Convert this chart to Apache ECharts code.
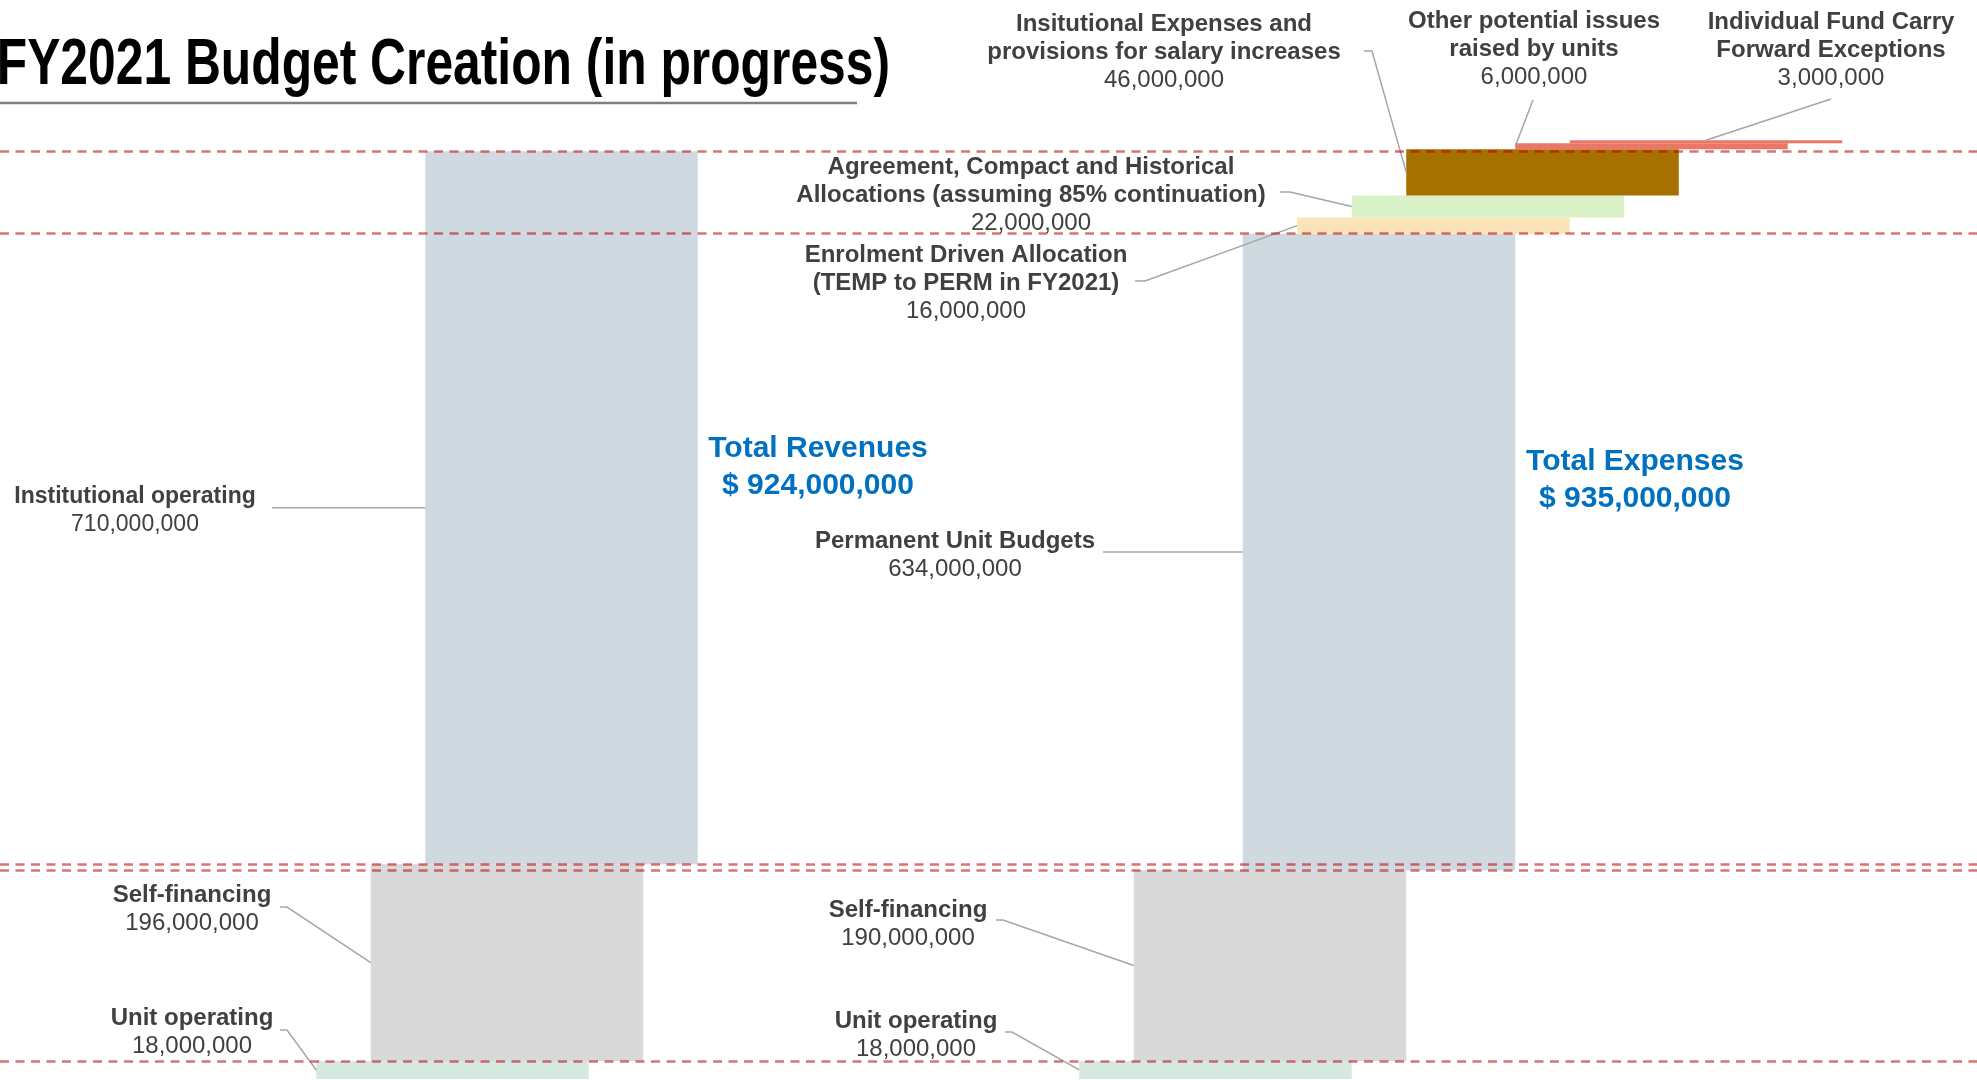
<!DOCTYPE html>
<html><head><meta charset="utf-8">
<script src="https://cdn.jsdelivr.net/npm/echarts@6/dist/echarts.min.js"></script>
<style>html,body{margin:0;padding:0;background:#fff;overflow:hidden}#c{width:1977px;height:1080px}</style>
</head><body><div id="c"></div>
<script>
// ---------------- data ----------------
const titleText = 'FY2021 Budget Creation (in progress)';
const revenueLabels = ['Unit operating', 'Self-financing', 'Institutional operating'];
const revenueValues = [18000000, 196000000, 710000000];
const expenseLabels = [
  'Unit operating',
  'Self-financing',
  'Permanent Unit Budgets',
  'Enrolment Driven Allocation\n(TEMP to PERM in FY2021)',
  'Agreement, Compact and Historical\nAllocations (assuming 85% continuation)',
  'Insitutional Expenses and\nprovisions for salary increases',
  'Other potential issues\nraised by units',
  'Individual Fund Carry\nForward Exceptions'
];
const expenseValues = [18000000, 190000000, 634000000, 16000000, 22000000, 46000000, 6000000, 3000000];
const totalLabels = ['Total Revenues', 'Total Expenses'];

// ---------------- styles & layout ----------------
const revenueColors = ['#D6E8E2', '#D9D9D9', '#CFDAE0'];
const expenseColors = ['#D6E8E2', '#D9D9D9', '#CFDAE0', '#FBE4B9', '#DAF2C8', '#A67100', '#EA7866', '#EA7866'];
const revenueSlots = [0, 1, 2];
const expenseSlots = [14, 15, 17, 18, 19, 20, 22, 23];
const BAR_SLOTS = 5;
const FONT = '"Liberation Sans", Arial, Helvetica, sans-serif';
const LINE_H = 28;
// label text centre + leader start points (leader ends on the bar)
const revenueLabelLayout = [
  {tx: 192, ty: 1032, fs: 24, lead: [[280, 1030], [287, 1030]], end: 'left'},
  {tx: 192, ty: 909, fs: 24, lead: [[280, 907], [287, 907]], end: 'left'},
  {tx: 135, ty: 511, fs: 23, lead: [[272, null]], end: 'left'}
];
const expenseLabelLayout = [
  {tx: 916, ty: 1035, fs: 24, lead: [[1005, 1032], [1012, 1032]], end: 'left'},
  {tx: 908, ty: 924, fs: 24, lead: [[996, 920], [1003, 920]], end: 'left'},
  {tx: 955, ty: 555, fs: 24, lead: [[1103, null]], end: 'left'},
  {tx: 966, ty: 283, fs: 24, lead: [[1135, 281], [1145, 281]], end: 'left'},
  {tx: 1031, ty: 195, fs: 24, lead: [[1280, 192], [1290, 192]], end: 'left'},
  {tx: 1164, ty: 52, fs: 24, lead: [[1364, 51], [1372, 51]], end: 'left'},
  {tx: 1534, ty: 49, fs: 24, lead: [[1533, 100]], end: 'left'},
  {tx: 1831, ty: 50, fs: 24, lead: [[1831, 99]], end: 'top'}
];

const fmt = v => v.toLocaleString('en-US');
function cumulative(vals) {
  let acc = 0;
  return vals.map(v => { const lo = acc; acc += v; return [lo, acc]; });
}
const revCum = cumulative(revenueValues);
const expCum = cumulative(expenseValues);
const revenueTotal = revenueValues.reduce((a, b) => a + b, 0);
const expenseTotal = expenseValues.reduce((a, b) => a + b, 0);

function buildData(slots, cum) {
  return cum.map((c, i) => [slots[i], c[0], c[1]]);
}

function makeRender(labels, values, colors, layout) {
  return function (params, api) {
    const i = params.dataIndex;
    const s = api.value(0), lo = api.value(1), hi = api.value(2);
    const a = api.coord([s - BAR_SLOTS / 2, hi]);
    const b = api.coord([s + BAR_SLOTS / 2, lo]);
    const rect = {x: a[0], y: a[1], width: b[0] - a[0], height: b[1] - a[1]};
    const L = layout[i];
    const mid = rect.y + rect.height / 2;
    const end = L.end === 'top' ? [rect.x + rect.width / 2, rect.y] : [rect.x, mid];
    const pts = L.lead.map(p => [p[0], p[1] == null ? mid : p[1]]).concat([end]);
    const rich = labels[i].split('\n').map(t => '{b|' + t + '}').join('\n') + '\n{n|' + fmt(values[i]) + '}';
    return {
      type: 'group',
      children: [
        {type: 'rect', shape: rect, style: {fill: colors[i]}},
        {type: 'polyline', shape: {points: pts}, style: {stroke: '#A6A6A6', lineWidth: 1.5, fill: null}},
        {type: 'text', x: L.tx, y: L.ty, style: {
          text: rich, align: 'center', verticalAlign: 'middle',
          rich: {
            b: {fontSize: L.fs, fontWeight: 'bold', fontFamily: FONT, fill: '#404040', lineHeight: LINE_H, align: 'center'},
            n: {fontSize: L.fs, fontWeight: 'normal', fontFamily: FONT, fill: '#404040', lineHeight: LINE_H, align: 'center'}
          }
        }}
      ]
    };
  };
}

const dashLevels = [revCum[0][1], revCum[1][1], revenueTotal, expCum[1][1], expCum[2][1]];

const chart = echarts.init(document.getElementById('c'), null, {renderer: 'canvas'});
chart.setOption({
  animation: false,
  backgroundColor: '#ffffff',
  grid: {left: 0, right: 0, top: 75, bottom: 1},
  xAxis: {type: 'value', min: -8.3028, max: 27.9725, show: false, splitLine: {show: false}},
  yAxis: {type: 'value', min: 0, max: 1000000000, show: false, splitLine: {show: false}},
  series: [
    {
      type: 'custom', name: 'Revenues', clip: false, z: 2,
      data: buildData(revenueSlots, revCum),
      encode: {x: 0, y: [1, 2]},
      renderItem: makeRender(revenueLabels, revenueValues, revenueColors, revenueLabelLayout)
    },
    {
      type: 'custom', name: 'Expenses', clip: false, z: 2,
      data: buildData(expenseSlots, expCum),
      encode: {x: 0, y: [1, 2]},
      renderItem: makeRender(expenseLabels, expenseValues, expenseColors, expenseLabelLayout),
      markLine: {
        silent: true, symbol: 'none', z: 10,
        label: {show: false},
        lineStyle: {color: 'rgba(185,0,0,0.55)', width: 2.5, type: [9, 6.5]},
        data: dashLevels.map(v => ({yAxis: v}))
      }
    }
  ],
  graphic: [
    {type: 'text', x: 890, y: 66, scaleX: 0.79, scaleY: 1.03, originX: 0, originY: 0, style: {
      text: titleText, align: 'right', verticalAlign: 'middle',
      font: 'bold 63px "Liberation Sans", Arial, sans-serif', fill: '#000000'}},
    {type: 'line', shape: {x1: 0, y1: 103, x2: 857, y2: 103}, style: {stroke: '#7F7F7F', lineWidth: 2.5}},
    {type: 'text', x: 818, y: 467, style: {
      text: '{t|' + totalLabels[0] + '}\n{t|$ ' + fmt(revenueTotal) + '}', align: 'center', verticalAlign: 'middle',
      rich: {t: {fontSize: 30, fontWeight: 'bold', fontFamily: FONT, fill: '#0070C0', lineHeight: 37, align: 'center'}}}},
    {type: 'text', x: 1635, y: 480, style: {
      text: '{t|' + totalLabels[1] + '}\n{t|$ ' + fmt(expenseTotal) + '}', align: 'center', verticalAlign: 'middle',
      rich: {t: {fontSize: 30, fontWeight: 'bold', fontFamily: FONT, fill: '#0070C0', lineHeight: 37, align: 'center'}}}}
  ]
});
</script>
</body></html>
